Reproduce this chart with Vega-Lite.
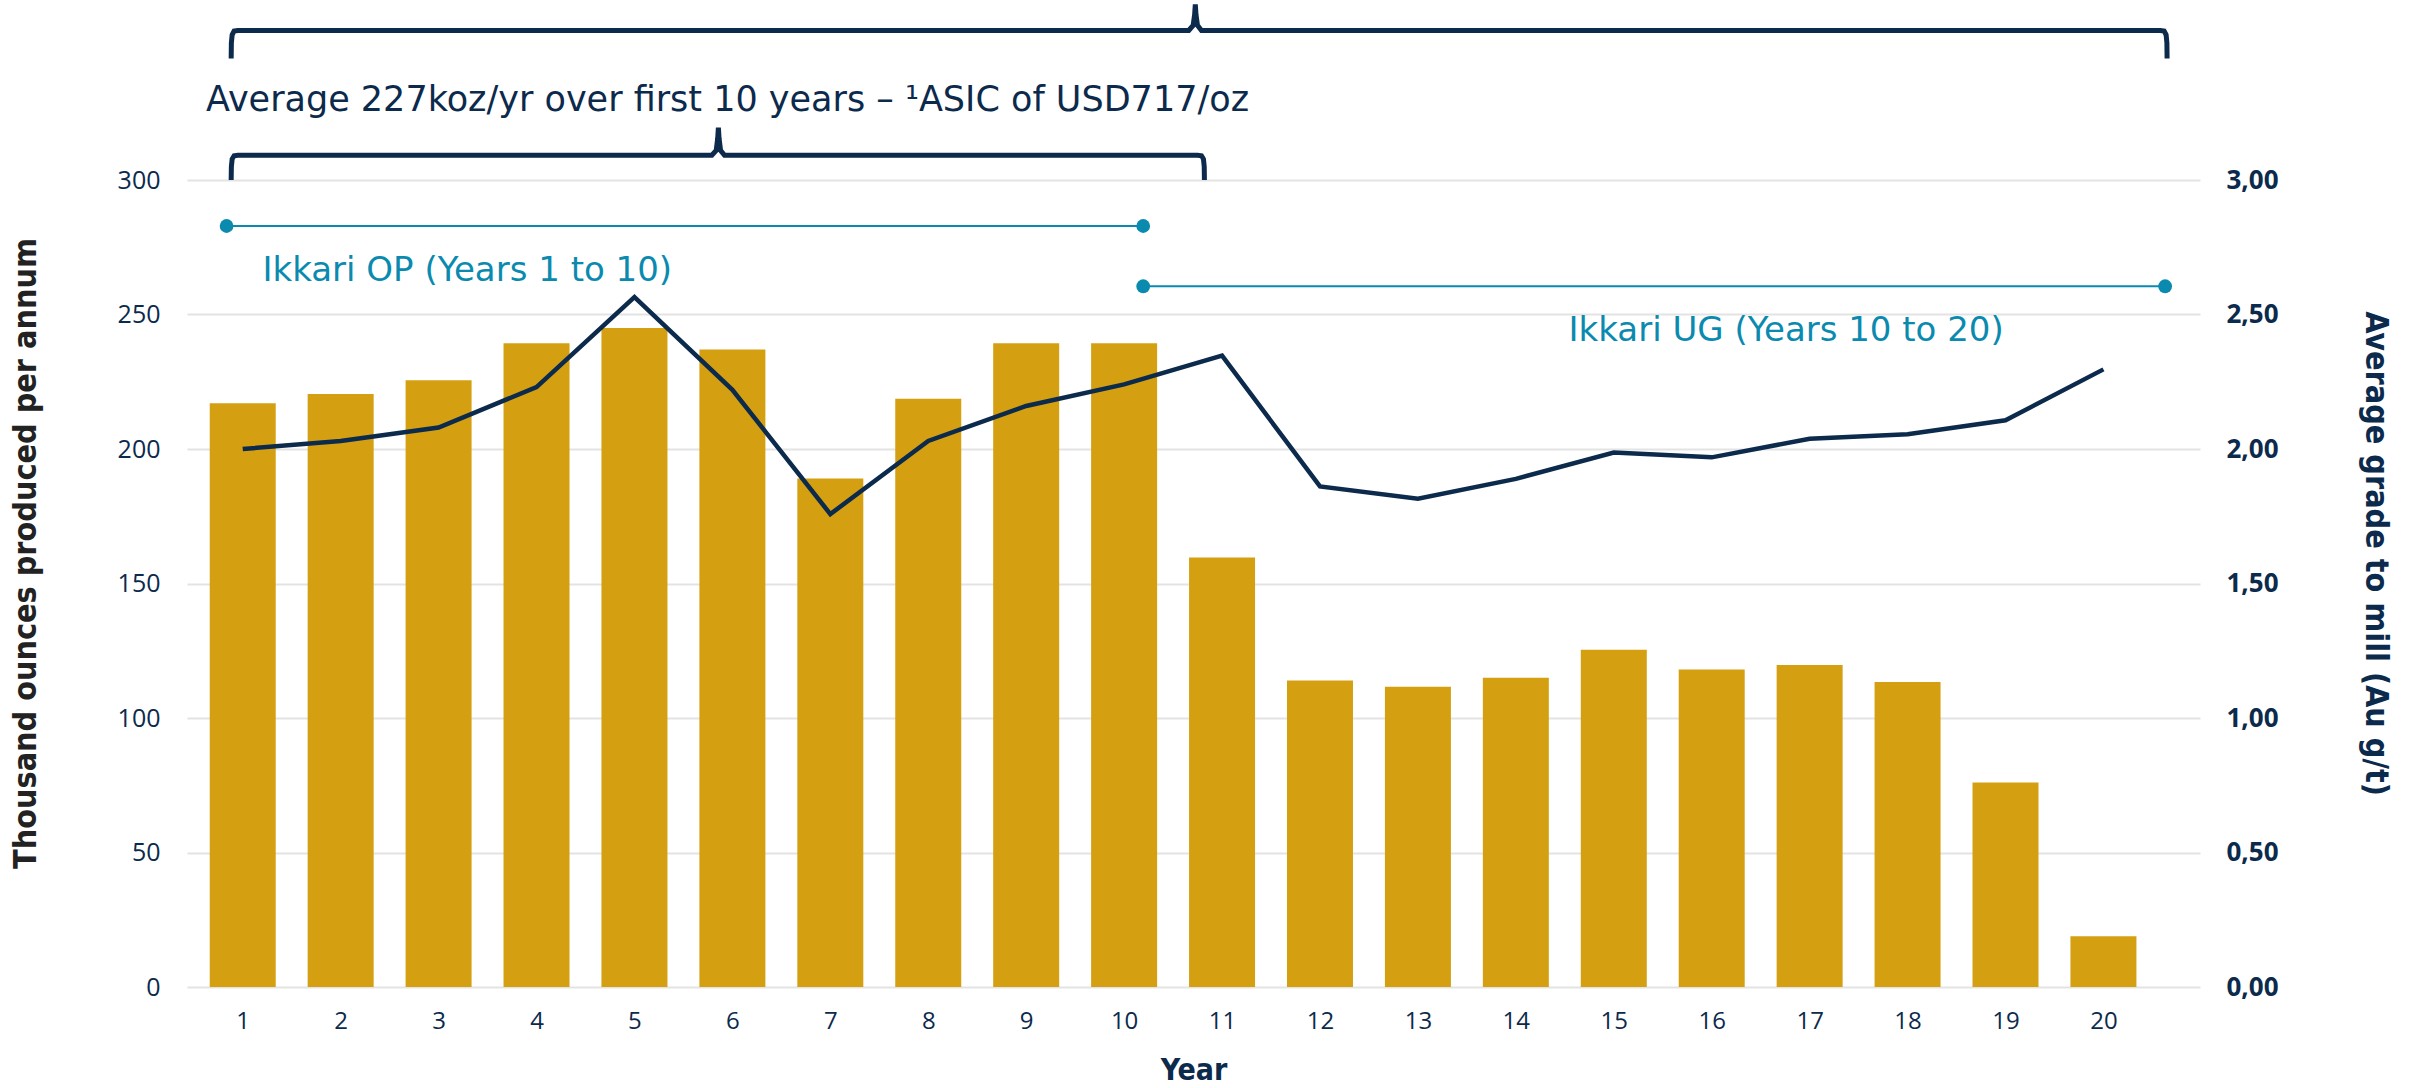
{
  "$schema": "https://vega.github.io/schema/vega-lite/v6.json",
  "width": 2013,
  "height": 807,
  "autosize": {"type": "none"},
  "padding": {"left": 187, "top": 180, "right": 215, "bottom": 101},
  "background": "white",
  "config": {"view": {"stroke": null}, "font": "Open Sans"},
  "datasets": {
    "prod": [
      {"year": 1, "oz": 217, "grade": 2.00},
      {"year": 2, "oz": 220.4, "grade": 2.03},
      {"year": 3, "oz": 225.6, "grade": 2.08},
      {"year": 4, "oz": 239.3, "grade": 2.23},
      {"year": 5, "oz": 245, "grade": 2.565},
      {"year": 6, "oz": 237, "grade": 2.22},
      {"year": 7, "oz": 189, "grade": 1.758},
      {"year": 8, "oz": 218.7, "grade": 2.03},
      {"year": 9, "oz": 239.3, "grade": 2.16},
      {"year": 10, "oz": 239.3, "grade": 2.24},
      {"year": 11, "oz": 159.7, "grade": 2.347},
      {"year": 12, "oz": 113.9, "grade": 1.861},
      {"year": 13, "oz": 111.6, "grade": 1.815},
      {"year": 14, "oz": 115, "grade": 1.889},
      {"year": 15, "oz": 125.4, "grade": 1.987},
      {"year": 16, "oz": 118, "grade": 1.969},
      {"year": 17, "oz": 119.7, "grade": 2.038},
      {"year": 18, "oz": 113.4, "grade": 2.055},
      {"year": 19, "oz": 76, "grade": 2.107},
      {"year": 20, "oz": 18.9, "grade": 2.296}
    ],
    "braces": [
      {"brace": "all", "ord": 1, "year": 0.882, "oz": 345.2},
      {"brace": "all", "ord": 2, "year": 0.884, "oz": 351},
      {"brace": "all", "ord": 3, "year": 0.892, "oz": 354},
      {"brace": "all", "ord": 4, "year": 0.912, "oz": 355.4},
      {"brace": "all", "ord": 5, "year": 0.95, "oz": 355.6},
      {"brace": "all", "ord": 6, "year": 10.66, "oz": 355.6},
      {"brace": "all", "ord": 7, "year": 10.705, "oz": 357.5},
      {"brace": "all", "ord": 8, "year": 10.72, "oz": 361.5},
      {"brace": "all", "ord": 9, "year": 10.727, "oz": 365.3},
      {"brace": "all", "ord": 10, "year": 10.734, "oz": 361.5},
      {"brace": "all", "ord": 11, "year": 10.749, "oz": 357.5},
      {"brace": "all", "ord": 12, "year": 10.79, "oz": 355.6},
      {"brace": "all", "ord": 13, "year": 20.58, "oz": 355.6},
      {"brace": "all", "ord": 14, "year": 20.62, "oz": 355.4},
      {"brace": "all", "ord": 15, "year": 20.64, "oz": 354},
      {"brace": "all", "ord": 16, "year": 20.648, "oz": 351},
      {"brace": "all", "ord": 17, "year": 20.65, "oz": 345.2},
      {"brace": "first", "ord": 1, "year": 0.882, "oz": 300},
      {"brace": "first", "ord": 2, "year": 0.884, "oz": 305},
      {"brace": "first", "ord": 3, "year": 0.892, "oz": 307.8},
      {"brace": "first", "ord": 4, "year": 0.912, "oz": 309},
      {"brace": "first", "ord": 5, "year": 0.95, "oz": 309.2},
      {"brace": "first", "ord": 6, "year": 5.79, "oz": 309.2},
      {"brace": "first", "ord": 7, "year": 5.835, "oz": 311},
      {"brace": "first", "ord": 8, "year": 5.85, "oz": 315.5},
      {"brace": "first", "ord": 9, "year": 5.857, "oz": 319.5},
      {"brace": "first", "ord": 10, "year": 5.864, "oz": 315.5},
      {"brace": "first", "ord": 11, "year": 5.879, "oz": 311},
      {"brace": "first", "ord": 12, "year": 5.92, "oz": 309.2},
      {"brace": "first", "ord": 13, "year": 10.75, "oz": 309.2},
      {"brace": "first", "ord": 14, "year": 10.79, "oz": 309},
      {"brace": "first", "ord": 15, "year": 10.81, "oz": 307.8},
      {"brace": "first", "ord": 16, "year": 10.818, "oz": 305},
      {"brace": "first", "ord": 17, "year": 10.82, "oz": 300}
    ],
    "spans": [
      {"name": "Ikkari OP", "year": 0.835, "year_end": 10.195, "oz": 282.9},
      {"name": "Ikkari UG", "year": 10.195, "year_end": 20.63, "oz": 260.5}
    ],
    "dots": [
      {"year": 0.835, "oz": 282.9},
      {"year": 10.195, "oz": 282.9},
      {"year": 10.195, "oz": 260.5},
      {"year": 20.63, "oz": 260.5}
    ],
    "notes": [
      {"text": "Ikkari OP (Years 1 to 10)", "year": 3.293, "oz": 266.3},
      {"text": "Ikkari UG (Years  10 to 20)", "year": 16.76, "oz": 243.9}
    ],
    "headline": [
      {"text": "Average 227koz/yr over first 10 years – ¹ASIC of USD717/oz", "year": 5.95, "oz": 329.8}
    ]
  },
  "layer": [
    {
      "layer": [
        {
          "data": {"name": "prod"},
          "mark": {"type": "bar", "width": 66, "color": "#D4A012"},
          "encoding": {
            "x": {
              "field": "year", "type": "quantitative",
              "scale": {"domain": [0.482, 20.935], "nice": false, "zero": false},
              "axis": {
                "values": [1,2,3,4,5,6,7,8,9,10,11,12,13,14,15,16,17,18,19,20],
                "format": "d", "grid": false, "domain": false, "ticks": false, "tickSize": 0,
                "labelFontSize": 24, "labelColor": "#0C2A4C", "labelPadding": 34, "labelBaseline": "middle",
                "title": "Year", "titleFont": "DejaVu Sans Condensed", "titleFontSize": 30, "titleFontWeight": "bold",
                "titleColor": "#0C2A4C", "titleY": 83, "titleBaseline": "middle"
              }
            },
            "y": {
              "field": "oz", "type": "quantitative",
              "scale": {"domain": [0, 300], "nice": false},
              "axis": {
                "values": [0, 50, 100, 150, 200, 250, 300],
                "grid": true, "gridColor": "#E3E3E3", "gridWidth": 2,
                "domain": false, "ticks": false, "tickSize": 0,
                "labelFontSize": 25, "labelColor": "#0C2A4C", "labelPadding": 27,
                "title": "Thousand ounces produced per annum",
                "titleFont": "DejaVu Sans Condensed", "titleFontSize": 32, "titleFontWeight": "bold",
                "titleColor": "#222222", "titleAngle": -90, "titleAlign": "center", "titleBaseline": "bottom",
                "titleX": -145, "titleY": 373
              }
            }
          }
        },
        {
          "data": {"name": "braces"},
          "mark": {"type": "line", "color": "#0C2A4C", "strokeWidth": 5, "clip": false},
          "encoding": {
            "x": {"field": "year", "type": "quantitative", "scale": {"domain": [0.482, 20.935], "nice": false, "zero": false}},
            "y": {"field": "oz", "type": "quantitative", "scale": {"domain": [0, 300], "nice": false}},
            "detail": {"field": "brace"},
            "order": {"field": "ord", "type": "quantitative"}
          }
        },
        {
          "data": {"name": "spans"},
          "mark": {"type": "rule", "color": "#0B8AB0", "strokeWidth": 2},
          "encoding": {
            "x": {"field": "year", "type": "quantitative", "scale": {"domain": [0.482, 20.935], "nice": false, "zero": false}},
            "x2": {"field": "year_end"},
            "y": {"field": "oz", "type": "quantitative", "scale": {"domain": [0, 300], "nice": false}}
          }
        },
        {
          "data": {"name": "dots"},
          "mark": {"type": "circle", "color": "#0B8AB0", "size": 190, "opacity": 1},
          "encoding": {
            "x": {"field": "year", "type": "quantitative", "scale": {"domain": [0.482, 20.935], "nice": false, "zero": false}},
            "y": {"field": "oz", "type": "quantitative", "scale": {"domain": [0, 300], "nice": false}}
          }
        },
        {
          "data": {"name": "notes"},
          "mark": {"type": "text", "font": "DejaVu Sans", "color": "#0B8AB0", "fontSize": 34, "align": "center", "baseline": "middle"},
          "encoding": {
            "x": {"field": "year", "type": "quantitative", "scale": {"domain": [0.482, 20.935], "nice": false, "zero": false}},
            "y": {"field": "oz", "type": "quantitative", "scale": {"domain": [0, 300], "nice": false}},
            "text": {"field": "text"}
          }
        },
        {
          "data": {"name": "headline"},
          "mark": {"type": "text", "font": "DejaVu Sans", "color": "#0C2A4C", "fontSize": 35, "align": "center", "baseline": "middle"},
          "encoding": {
            "x": {"field": "year", "type": "quantitative", "scale": {"domain": [0.482, 20.935], "nice": false, "zero": false}},
            "y": {"field": "oz", "type": "quantitative", "scale": {"domain": [0, 300], "nice": false}},
            "text": {"field": "text"}
          }
        }
      ]
    },
    {
      "data": {"name": "prod"},
      "mark": {"type": "line", "color": "#0C2A4C", "strokeWidth": 4.5},
      "encoding": {
        "x": {"field": "year", "type": "quantitative", "scale": {"domain": [0.482, 20.935], "nice": false, "zero": false}},
        "y": {
          "field": "grade", "type": "quantitative",
          "scale": {"domain": [0, 3], "nice": false},
          "axis": {
            "orient": "right",
            "values": [0, 0.5, 1, 1.5, 2, 2.5, 3],
            "labelExpr": "replace(format(datum.value, '.2f'), '.', ',')",
            "grid": false, "domain": false, "ticks": false, "tickSize": 0,
            "labelFontSize": 26, "labelFontWeight": "bold", "labelColor": "#0C2A4C", "labelPadding": 26,
            "title": "Average grade to mill (Au g/t)",
            "titleFont": "DejaVu Sans Condensed", "titleFontSize": 32, "titleFontWeight": "bold",
            "titleColor": "#0C2A4C", "titleAngle": 90, "titleAlign": "center", "titleBaseline": "bottom",
            "titleX": 158, "titleY": 373
          }
        }
      }
    }
  ],
  "resolve": {"scale": {"y": "independent"}}
}
